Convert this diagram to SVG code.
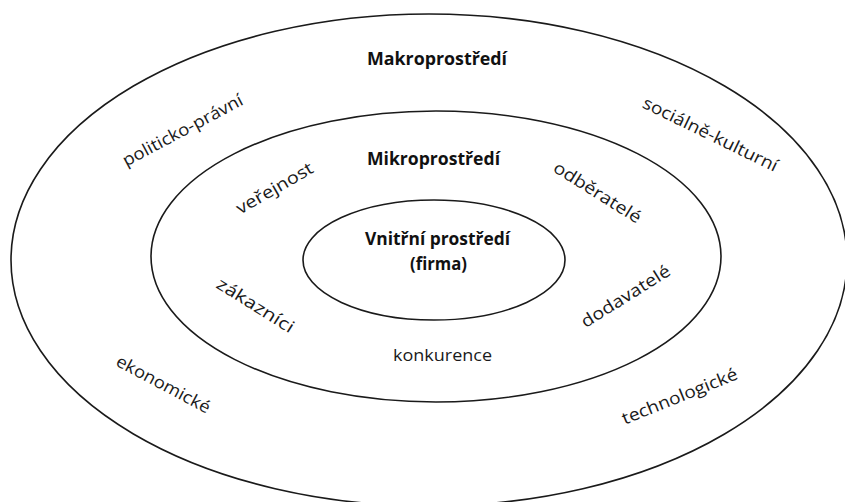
<svg xmlns="http://www.w3.org/2000/svg" width="845" height="502" viewBox="0 0 845 502">
  <style>
    .ring { fill: none; stroke: #1a1a1a; stroke-width: 1.6; }
    .lbl { font-family: "Open Sans", "Liberation Sans", sans-serif; font-size: 17px; fill: #1a1a1a; text-anchor: middle; }
    .ttl { font-family: "Open Sans", "Liberation Sans", sans-serif; font-size: 17px; font-weight: bold; fill: #111; text-anchor: middle; }
  </style>
  <rect width="845" height="502" fill="#ffffff"/>
  <g id="makroprostredi">
    <ellipse class="ring" cx="429" cy="260" rx="418" ry="246"/>
    <text class="ttl" x="437" y="65" textLength="140" lengthAdjust="spacingAndGlyphs">Makroprostředí</text>
    <text class="lbl" transform="translate(183,131) rotate(-28)" y="5" textLength="134" lengthAdjust="spacingAndGlyphs">politicko-právní</text>
    <text class="lbl" transform="translate(710,135) rotate(26)" y="5" textLength="148" lengthAdjust="spacingAndGlyphs">sociálně-kulturní</text>
    <text class="lbl" transform="translate(163,385) rotate(28)" y="5" textLength="104" lengthAdjust="spacingAndGlyphs">ekonomické</text>
    <text class="lbl" transform="translate(680,397) rotate(-22)" y="5" textLength="123" lengthAdjust="spacingAndGlyphs">technologické</text>
  </g>
  <g id="mikroprostredi">
    <ellipse class="ring" cx="436" cy="256.5" rx="285" ry="145.5"/>
    <text class="ttl" x="433.5" y="165" textLength="133" lengthAdjust="spacingAndGlyphs">Mikroprostředí</text>
    <text class="lbl" transform="translate(275,189) rotate(-30)" y="5" textLength="86" lengthAdjust="spacingAndGlyphs">veřejnost</text>
    <text class="lbl" transform="translate(597,193) rotate(32)" y="5" textLength="100" lengthAdjust="spacingAndGlyphs">odběratelé</text>
    <text class="lbl" transform="translate(255,306) rotate(32)" y="5" textLength="88" lengthAdjust="spacingAndGlyphs">zákazníci</text>
    <text class="lbl" transform="translate(626,297) rotate(-32)" y="5" textLength="102" lengthAdjust="spacingAndGlyphs">dodavatelé</text>
    <text class="lbl" x="442.5" y="361" textLength="99" lengthAdjust="spacingAndGlyphs">konkurence</text>
  </g>
  <g id="vnitrni-prostredi">
    <ellipse class="ring" cx="434" cy="260" rx="131" ry="60"/>
    <text class="ttl" x="437.5" y="245" textLength="145" lengthAdjust="spacingAndGlyphs">Vnitřní prostředí</text>
    <text class="ttl" x="438.5" y="270" textLength="57" lengthAdjust="spacingAndGlyphs">(firma)</text>
  </g>
  <g id="connectors"/>
</svg>
